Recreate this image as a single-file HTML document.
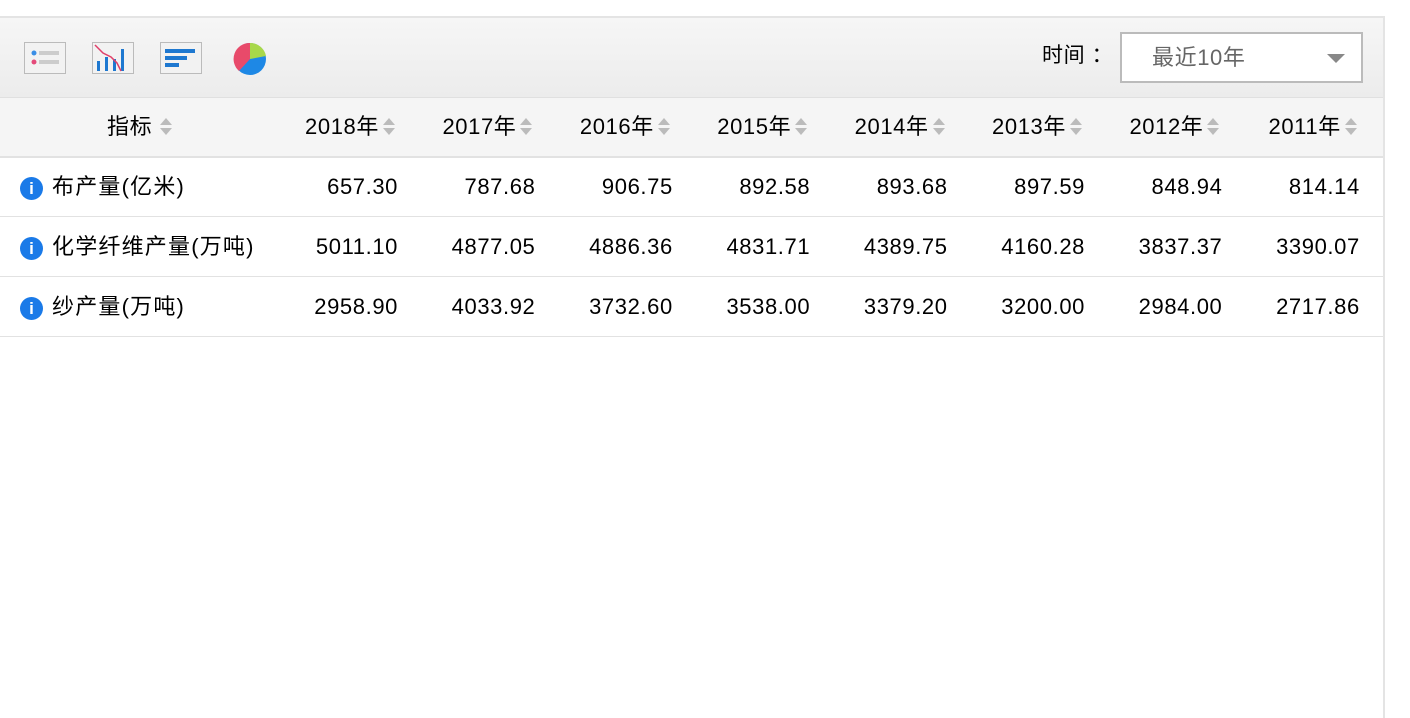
<!DOCTYPE html>
<html><head><meta charset="utf-8"><style>
body{margin:0;width:1410px;height:684px;background:#fff;font-family:"Liberation Sans","Noto Sans CJK SC",sans-serif;position:relative;overflow:hidden}
.box{position:absolute;left:0;top:16px;width:1383px;height:700px;border-top:2px solid #e4e4e4;border-right:2px solid #e4e4e4}
.tb{position:absolute;left:0;top:18px;width:1383px;height:79px;background:linear-gradient(#f6f6f6,#ececec);border-bottom:1px solid #e0e0e0}
.hd{position:absolute;left:0;top:98px;width:1383px;height:58px;background:#f5f5f5;border-bottom:2px solid #e2e2e2}
.row{position:absolute;left:0;width:1383px;height:59px;border-bottom:1px solid #e2e2e2}
.t{position:absolute;font-size:22px;letter-spacing:0.6px;color:#000;white-space:nowrap;line-height:26px}
.info{position:absolute;left:20px;width:23px;height:23px;border-radius:50%;background:#1a7ae8;color:#fff;font:bold 17px "Liberation Sans",sans-serif;text-align:center;line-height:24px}
.ic{position:absolute;top:42px;width:42px;height:32px;border:1px solid #bbb;background:#f2f2f2;box-sizing:border-box}
</style></head><body>
<div class="box"></div>
<div class="tb"></div>
<div class="ic" style="left:24px">
<svg width="40" height="30"><circle cx="9" cy="10" r="2.5" fill="#3a8ee6"/><rect x="14" y="8" width="20" height="4" fill="#ccc"/><circle cx="9" cy="19" r="2.5" fill="#e44a7a"/><rect x="14" y="17" width="20" height="4" fill="#ccc"/></svg></div>
<div class="ic" style="left:92px">
<svg width="40" height="30"><rect x="4" y="18" width="3" height="10" fill="#1e78d0"/><rect x="12" y="14" width="3" height="14" fill="#1e78d0"/><rect x="20" y="16" width="3" height="12" fill="#1e78d0"/><rect x="28" y="6" width="3" height="22" fill="#1e78d0"/><polyline points="2,2 10,10 18,14 24,20 28,28" stroke="#e0406a" stroke-width="1.5" fill="none"/></svg></div>
<div class="ic" style="left:160px">
<svg width="40" height="30"><rect x="4" y="6" width="30" height="4" fill="#1e78d0"/><rect x="4" y="13" width="22" height="4" fill="#1e78d0"/><rect x="4" y="20" width="14" height="4" fill="#1e78d0"/></svg></div>
<svg style="position:absolute;left:233px;top:42px" width="34" height="34"><circle cx="17" cy="17" r="16" fill="#1e88e5"/><path d="M17 17 L17 1 A16 16 0 0 1 33 14 Z" fill="#a8d84a"/><path d="M17 17 L17 1 A16 16 0 0 0 6 29 Z" fill="#e84a6a"/></svg>
<div class="t" style="left:1042px;top:43px;font-size:21px">时间 ：</div>
<div style="position:absolute;left:1120px;top:32px;width:243px;height:51px;border:2px solid #bbb;background:#fff;box-sizing:border-box">
<span class="t" style="left:30px;top:11px;color:#666">最近10年</span>
<svg style="position:absolute;left:205px;top:20px" width="20" height="10"><polygon points="0,0 18,0 9,9" fill="#888"/></svg></div>
<div class="hd"></div>
<div id="tbl"></div>
<script>
const years=["2018年","2017年","2016年","2015年","2014年","2013年","2012年","2011年"];
const names=["布产量(亿米)","化学纤维产量(万吨)","纱产量(万吨)"];
const row1=["657.30","787.68","906.75","892.58","893.68","897.59","848.94","814.14"];
const row2=["5011.10","4877.05","4886.36","4831.71","4389.75","4160.28","3837.37","3390.07"];
const row3=["2958.90","4033.92","3732.60","3538.00","3379.20","3200.00","2984.00","2717.86"];
const rows=[row1,row2,row3];
const T=document.getElementById('tbl');
function sortIcon(x,y){const s=document.createElementNS('http://www.w3.org/2000/svg','svg');s.setAttribute('width','14');s.setAttribute('height','22');s.style.cssText=`position:absolute;left:${x}px;top:${y}px`;s.innerHTML='<polygon points="1,9 13,9 7,2" fill="#bbb"/><polygon points="1,12 13,12 7,19" fill="#bbb"/>';


T.appendChild(s);}
function txt(s,style,name){const d=document.createElement('div');d.className='t';d.textContent=s;d.style.cssText=style;


T.appendChild(d);return d;}
const right=i=>397+i*137.4;
txt("指标","left:107px;top:114px","header-indicator");sortIcon(159,116);
years.forEach((y,i)=>{txt(y,`right:${1410-right(i)+18}px;top:114px`,"header-year");sortIcon(right(i)-15,116);});
rows.forEach((r,j)=>{const top=157+j*60;
const rd=document.createElement('div');rd.className='row';rd.style.top=top+'px';


T.appendChild(rd);
const inf=document.createElement('div');inf.className='info';inf.textContent='i';inf.style.top=(top+20)+'px';


T.appendChild(inf);
txt(names[j],`left:52px;top:${top+17}px;letter-spacing:1.2px`,"row-label");
r.forEach((v,i)=>txt(v,`right:${1410-right(i)-1}px;top:${top+17}px`,"cell-value"));});
</script>
</body></html>
